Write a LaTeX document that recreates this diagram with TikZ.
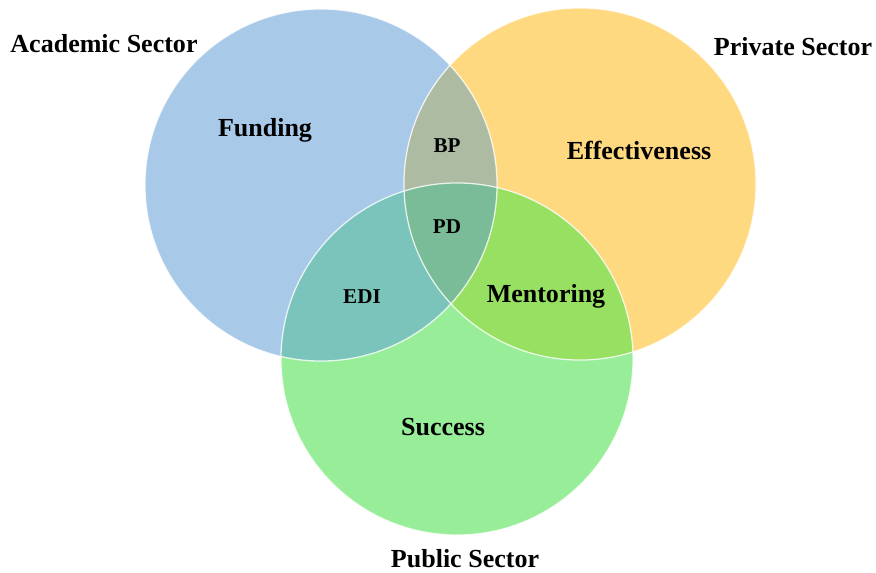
\documentclass[tikz,border=0pt]{standalone}
\usepackage{fontspec}
\setmainfont{Liberation Serif}
\usepackage{xcolor}
\definecolor{AcademicBlue}{HTML}{A9C9E9}
\definecolor{PrivateGold}{HTML}{FFD97F}
\definecolor{PublicGreen}{HTML}{98EE98}
\definecolor{BlueGold}{HTML}{ADBBA3}
\definecolor{BlueGreen}{HTML}{7AC4BC}
\definecolor{GoldGreen}{HTML}{98E062}
\definecolor{AllThree}{HTML}{7ABB98}
\usepackage{tikz}
\usetikzlibrary{calc}
\tikzset{
  % Text styles
  sectorlabel/.style={font=\fontsize{18.5}{22}\selectfont\bfseries, inner sep=0pt},
  arealabel/.style={font=\fontsize{18.5}{22}\selectfont\bfseries, inner sep=0pt},
  overlaplabel/.style={font=\fontsize{15}{18}\selectfont\bfseries, inner sep=0pt},
  % Circle outline
  rim/.style={draw=white, line width=0.9pt, opacity=0.8}
}

\begin{document}
\begin{tikzpicture}[x=0.025cm, y=-0.025cm]
  \useasboundingbox (0,0) rectangle (876,573);

  % Circle centres (radius 4.4cm)
  \coordinate (academic) at (321,185);
  \coordinate (private) at (580,184);
  \coordinate (public) at (457,359);

  % Plain fills
  \fill[AcademicBlue] (academic) circle (4.4cm);
  \fill[PrivateGold] (private) circle (4.4cm);
  \fill[PublicGreen] (public) circle (4.4cm);

  % Pairwise overlaps
  \begin{scope}
    \clip (academic) circle (4.4cm);
    \fill[BlueGold] (private) circle (4.4cm);
    \fill[BlueGreen] (public) circle (4.4cm);
  \end{scope}
  \begin{scope}
    \clip (private) circle (4.4cm);
    \fill[GoldGreen] (public) circle (4.4cm);
  \end{scope}

  % Centre overlap
  \begin{scope}
    \clip (academic) circle (4.4cm);
    \clip (private) circle (4.4cm);
    \fill[AllThree] (public) circle (4.4cm);
  \end{scope}

  % Outlines
  \foreach \c in {academic, private, public} {
    \draw[rim] (\c) circle (4.4cm);
  }

  % Sector names
  \node[sectorlabel] (academiclbl) at (104,44) {Academic Sector};
  \node[sectorlabel] (privatelbl) at (793,47) {Private Sector};
  \node[sectorlabel] (publiclbl) at (465,559) {Public Sector};

  % Region labels
  \node[arealabel] (funding) at (265,130) {Funding};
  \node[arealabel] (effect) at (639,150) {Effectiveness};
  \node[arealabel] (success) at (443,427) {Success};
  \node[arealabel] (mentor) at (546,296) {Mentoring};
  \node[overlaplabel] (bp) at (447,146) {BP};
  \node[overlaplabel] (pd) at (447,227) {PD};
  \node[overlaplabel] (edi) at (362,297) {EDI};
\end{tikzpicture}
\end{document}
